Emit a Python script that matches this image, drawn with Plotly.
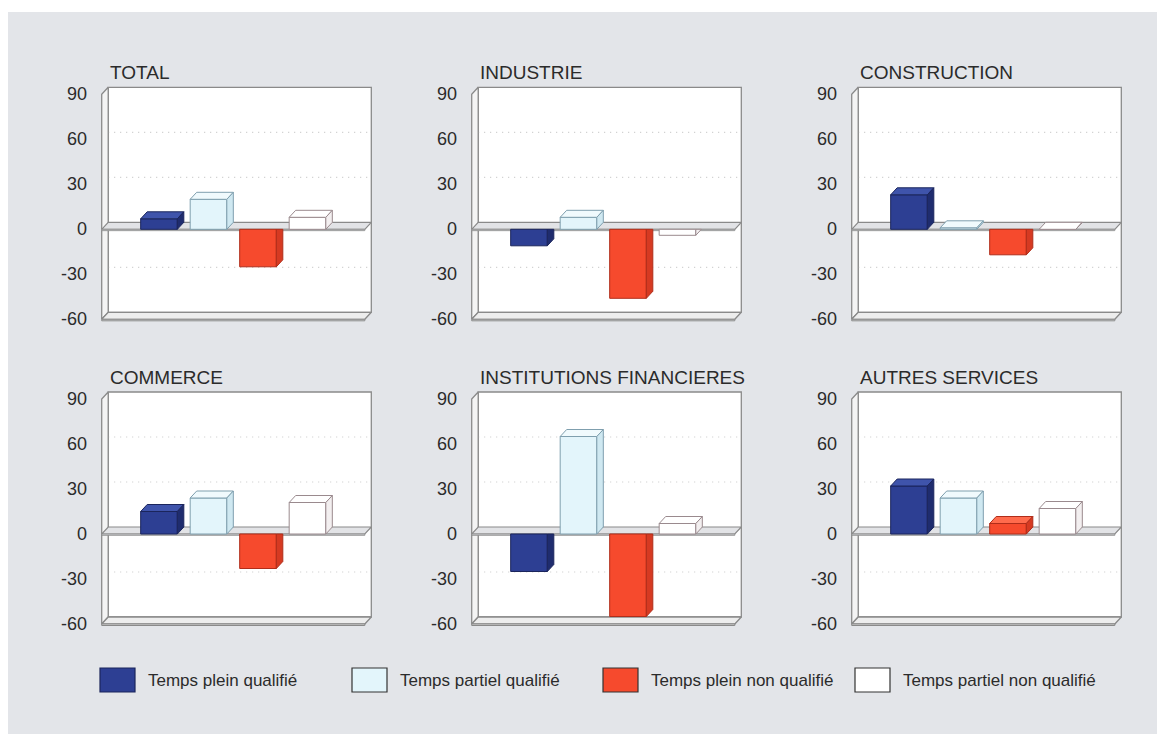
import plotly.graph_objects as go

# Sectors (one panel each) and the four employment categories
panels = ["TOTAL", "INDUSTRIE", "CONSTRUCTION",
          "COMMERCE", "INSTITUTIONS FINANCIERES", "AUTRES SERVICES"]
series_names = ["Temps plein qualifié", "Temps partiel qualifié",
                "Temps plein non qualifié", "Temps partiel non qualifié"]

temps_plein_qualifie = [7, -11, 23, 15, -25, 32]
temps_partiel_qualifie = [20, 8, 1, 24, 65, 24]
temps_plein_non_qualifie = [-25, -46, -17, -23, -55, 7]
temps_partiel_non_qualifie = [8, -4, 0, 21, 7, 17]

y_ticks = [90, 60, 30, 0, -30, -60]
grid_values = [60, 30, -30]

series_values = [temps_plein_qualifie, temps_partiel_qualifie,
                 temps_plein_non_qualifie, temps_partiel_non_qualifie]

# face colours per series: front, top, side, outline
face_styles = [
    dict(front="#2d3f93", top="#3f54ab", side="#1f2c6e", line="#1b255c"),
    dict(front="#e3f5fb", top="#f0fafd", side="#cfe8f1", line="#7f9fae"),
    dict(front="#f64a2d", top="#ff6b4d", side="#d63a22", line="#b02d1a"),
    dict(front="#ffffff", top="#ffffff", side="#f3eff0", line="#9a8a8e"),
]

# ---- page geometry (pixels) ----
W, H = 1164, 734
PX_X = 49.5            # pixels per category step
PX_Y = 1.5             # pixels per unit of value
DEPTH_X_PX, DEPTH_Y_PX = 6.5, 7.0
DXU = DEPTH_X_PX / PX_X
DYU = DEPTH_Y_PX / PX_Y
col_front_left = [101.7, 471.7, 851.7]
row_zero_px = [229.3, 534.0]
FIRST_CENTER_OFFSET = 57.3
LEFT_U = -FIRST_CENTER_OFFSET / PX_X
RIGHT_U = 3 - LEFT_U
BAR_HALF = 0.37
YMIN, YMAX = -60, 90
X_RANGE = [-1.25, 4.4]
Y_RANGE = [-63, 97]

WALL_LINE = "#8a8a8a"
TEXT_COLOR = "#2b2b2b"
FONT = "Arial, Liberation Sans, sans-serif"

fig = go.Figure()
layout_axes = {}
annotations = []


def px_x(p):
    return p / W


def px_y(p):
    return 1 - p / H


def add_poly(xs, ys, fillcolor, linecolor, width, ax_id):
    fig.add_trace(go.Scatter(
        x=list(xs) + [xs[0]], y=list(ys) + [ys[0]],
        mode="lines", fill="toself", fillcolor=fillcolor,
        line=dict(color=linecolor, width=width),
        xaxis=ax_id[0], yaxis=ax_id[1],
        hoverinfo="skip", showlegend=False))


def add_line(xs, ys, color, width, dash, ax_id):
    fig.add_trace(go.Scatter(
        x=xs, y=ys, mode="lines",
        line=dict(color=color, width=width, dash=dash),
        xaxis=ax_id[0], yaxis=ax_id[1],
        hoverinfo="skip", showlegend=False))


for k, title in enumerate(panels):
    sfx = "" if k == 0 else str(k + 1)
    ax = (f"x{sfx}", f"y{sfx}")
    col, row = k % 3, k // 3
    front_left = col_front_left[col]
    cx0 = front_left + FIRST_CENTER_OFFSET
    zero = row_zero_px[row]
    x_dom = [px_x(cx0 + X_RANGE[0] * PX_X), px_x(cx0 + X_RANGE[1] * PX_X)]
    y_dom = [px_y(zero - Y_RANGE[0] * PX_Y), px_y(zero - Y_RANGE[1] * PX_Y)]
    layout_axes[f"xaxis{sfx}"] = dict(domain=x_dom, range=X_RANGE, visible=False,
                                      fixedrange=True, anchor=ax[1])
    layout_axes[f"yaxis{sfx}"] = dict(domain=y_dom, range=Y_RANGE, visible=False,
                                      fixedrange=True, anchor=ax[0])

    L, R = LEFT_U, RIGHT_U
    # back wall
    add_poly([L + DXU, R + DXU, R + DXU, L + DXU],
             [YMIN + DYU, YMIN + DYU, YMAX + DYU, YMAX + DYU],
             "#ffffff", WALL_LINE, 1.3, ax)
    # dotted gridlines on the back wall
    for g in grid_values:
        add_line([L + DXU, R + DXU], [g + DYU, g + DYU], "#c8c8c8", 1.2,
                 "1px,5px", ax)
    # left side wall
    add_poly([L, L, L + DXU, L + DXU],
             [YMIN, YMAX, YMAX + DYU, YMIN + DYU],
             "#f4f4f4", WALL_LINE, 1.3, ax)
    # floor slab at the bottom
    add_poly([L, R, R + DXU, L + DXU],
             [YMIN, YMIN, YMIN + DYU, YMIN + DYU],
             "#ededed", WALL_LINE, 1.3, ax)
    add_poly([L, R, R, L], [YMIN - 1.0, YMIN - 1.0, YMIN, YMIN],
             "#dcdcdc", WALL_LINE, 1.0, ax)
    # zero plane
    add_poly([L, R, R + DXU, L + DXU], [0, 0, DYU, DYU],
             "#e2e3e6", WALL_LINE, 1.2, ax)
    add_poly([L, R, R, L], [-0.9, -0.9, 0, 0], "#d2d3d6", WALL_LINE, 0.8, ax)

    # bars
    for i, vals in enumerate(series_values):
        v = vals[k]
        st = face_styles[i]
        xl, xr = i - BAR_HALF, i + BAR_HALF
        if v >= 0:
            add_poly([xl, xr, xr, xl], [0, 0, v, v], st["front"], st["line"], 1.0, ax)
            add_poly([xl, xr, xr + DXU, xl + DXU], [v, v, v + DYU, v + DYU],
                     st["top"], st["line"], 1.0, ax)
            add_poly([xr, xr + DXU, xr + DXU, xr], [0, DYU, v + DYU, v],
                     st["side"], st["line"], 1.0, ax)
        else:
            add_poly([xl, xr, xr, xl], [v, v, 0, 0], st["front"], st["line"], 1.0, ax)
            # side face, only the part below the zero plane is visible
            if v + DYU < 0:
                add_poly([xr, xr + DXU, xr + DXU, xr], [0, 0, v + DYU, v],
                         st["side"], st["line"], 1.0, ax)
            else:
                t = -v / DYU
                add_poly([xr, xr + DXU * t, xr], [0, 0, v],
                         st["side"], st["line"], 1.0, ax)

    # value axis labels
    for tv in y_ticks:
        annotations.append(dict(
            x=px_x(front_left - 12.5), y=px_y(zero - tv * PX_Y),
            xref="paper", yref="paper",
            text=str(tv), showarrow=False, xanchor="right", yanchor="middle",
            font=dict(family=FONT, size=18, color=TEXT_COLOR)))
    # panel title
    annotations.append(dict(
        x=px_x(front_left + 6.5), y=px_y(zero - 156.4),
        xref="paper", yref="paper",
        text=title, showarrow=False, xanchor="left", yanchor="middle",
        font=dict(family=FONT, size=19, color=TEXT_COLOR)))

# legend drawn below the panels
shapes = [dict(type="rect", xref="paper", yref="paper", layer="below",
               x0=px_x(8), x1=px_x(1157), y0=0, y1=px_y(12),
               fillcolor="#e3e5e9", line=dict(width=0))]
legend_x = [100, 352, 603, 855]
SW_W, SW_H, LEG_Y = 35, 24, 680
for i, name in enumerate(series_names):
    x = legend_x[i]
    shapes.append(dict(type="rect", xref="paper", yref="paper",
                       x0=px_x(x), x1=px_x(x + SW_W),
                       y0=px_y(LEG_Y + SW_H / 2), y1=px_y(LEG_Y - SW_H / 2),
                       fillcolor=face_styles[i]["front"],
                       line=dict(color="#333333" if i != 0 else "#1b255c", width=1.2)))
    annotations.append(dict(
        x=px_x(x + SW_W + 11), y=px_y(LEG_Y), xref="paper", yref="paper",
        text=name, showarrow=False, xanchor="left", yanchor="middle",
        font=dict(family=FONT, size=17, color=TEXT_COLOR)))

fig.update_layout(
    width=W, height=H, margin=dict(l=0, r=0, t=0, b=0),
    paper_bgcolor="#ffffff", plot_bgcolor="rgba(0,0,0,0)",
    showlegend=False, annotations=annotations, shapes=shapes,
    **layout_axes)

fig.write_html("out.html", config={"displayModeBar": False})
